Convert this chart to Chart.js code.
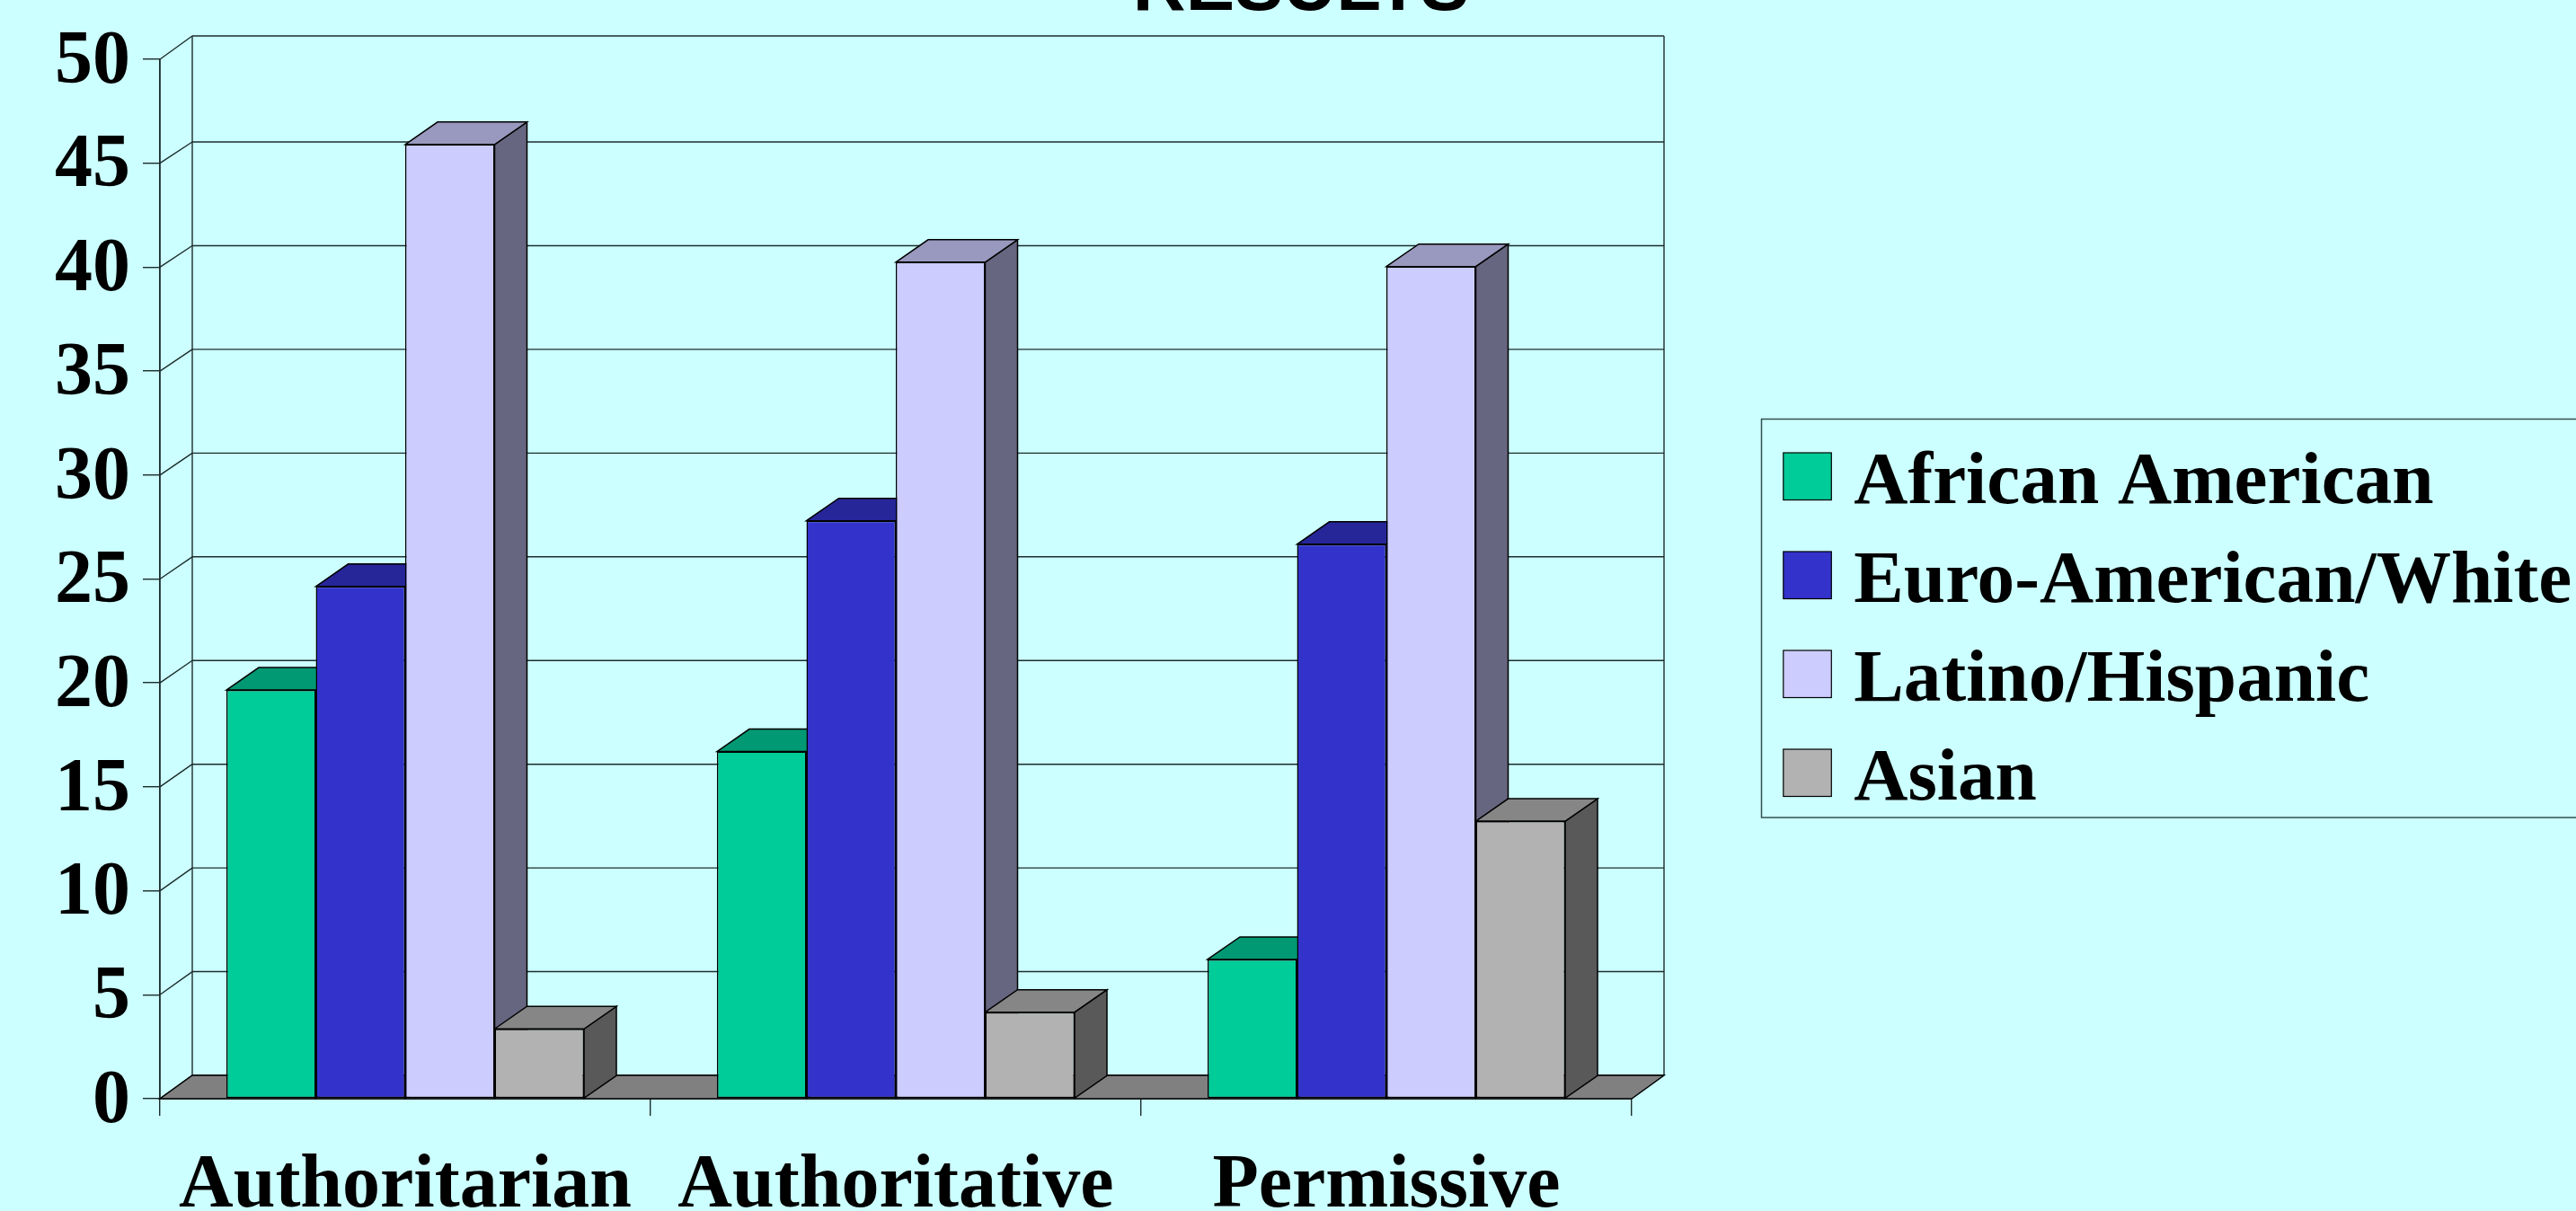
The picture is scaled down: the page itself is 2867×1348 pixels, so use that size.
<!DOCTYPE html>
<html>
<head>
<meta charset="utf-8">
<style>
html,body{margin:0;padding:0;background:#CCFFFF;overflow:hidden}
canvas{display:block}
</style>
<script src="https://cdn.jsdelivr.net/npm/chart.js@4/dist/chart.umd.min.js"></script>
</head>
<body>
<canvas id="c" width="2867" height="1348"></canvas>
<script>
const titleText = "RESULTS";
const categories = ["Authoritarian", "Authoritative", "Permissive"];
const seriesNames = ["African American", "Euro-American/White", "Latino/Hispanic", "Asian"];
const africanAmerican = [19.66, 16.7, 6.7];
const euroAmerican = [24.64, 27.8, 26.67];
const latinoHispanic = [45.9, 40.24, 40.03];
const asian = [3.36, 4.16, 13.35];
const frontColors = ["#00CC99", "#3333CC", "#CCCCFF", "#B2B2B2"];
const topColors = ["#009973", "#262699", "#9999BF", "#868686"];
const sideColors = ["#006650", "#1A1A66", "#666680", "#595959"];

const DX = 36, DY = 26, BAR_DY = 25;
const LINE = "#000000", LW = 1.5;
const GRID = "#1c2c2c", GRID_LW = 1.4;
const LEGEND_PAD = 26.7, LEGEND_FONT = 83.3;

function poly(ctx, pts, fill) {
  ctx.beginPath();
  pts.forEach((p, i) => i ? ctx.lineTo(p[0], p[1]) : ctx.moveTo(p[0], p[1]));
  ctx.closePath();
  if (fill) { ctx.fillStyle = fill; ctx.fill(); }
  ctx.strokeStyle = LINE; ctx.lineWidth = LW; ctx.stroke();
}
function seg(ctx, a, b, c, d) {
  ctx.beginPath(); ctx.moveTo(a, b); ctx.lineTo(c, d);
  ctx.strokeStyle = GRID; ctx.lineWidth = GRID_LW; ctx.stroke();
}

const depthPlugin = {
  id: "depth",
  afterLayout(chart) {
    const t = chart.titleBlock;
    t.left = 948; t.right = 1948; t.width = 1000;
    const l = chart.legend;
    l.left = 1994.9; l.top = 470.3; l.right = 2867; l.bottom = 1000;
    l.width = l.right - l.left; l.height = l.bottom - l.top;
  },
  beforeDatasetsDraw(chart) {
    const ctx = chart.ctx, a = chart.chartArea, ys = chart.scales.y;
    ctx.save();
    const y0 = ys.getPixelForValue(0), y50 = ys.getPixelForValue(50);
    ys.ticks.forEach(t => {
      const y = ys.getPixelForValue(t.value);
      const interior = t.value > 0 && t.value < 50;
      const back = y - DY + (interior ? 2.6 * t.value / 50 : 0);
      seg(ctx, a.left, y, a.left + DX, back);
      seg(ctx, a.left + DX, back, a.right + DX, back);
    });
    seg(ctx, a.left, y0, a.left, y50);
    seg(ctx, a.left + DX, y0 - DY, a.left + DX, y50 - DY);
    seg(ctx, a.right + DX, y0 - DY, a.right + DX, y50 - DY);
    poly(ctx, [[a.left, y0], [a.right, y0], [a.right + DX, y0 - DY], [a.left + DX, y0 - DY]], "#808080");
    categories.forEach((_, i) => {
      chart.data.datasets.forEach((ds, d) => {
        const b = chart.getDatasetMeta(d).data[i].getProps(["x", "y", "base", "width"], true);
        const L = b.x - b.width / 2, R = b.x + b.width / 2;
        poly(ctx, [[R, b.y], [R + DX, b.y - BAR_DY], [R + DX, b.base - BAR_DY], [R, b.base]], sideColors[d]);
        poly(ctx, [[L, b.y], [L + DX, b.y - BAR_DY], [R + DX, b.y - BAR_DY], [R, b.y]], topColors[d]);
      });
    });
    ctx.restore();
  },
  afterDraw(chart) {
    const ctx = chart.ctx, l = chart.legend;
    ctx.save();
    ctx.strokeStyle = "#33504f"; ctx.lineWidth = 1.5;
    ctx.strokeRect(1960.5, 466.5, 1000, 443.5);
    const pitch = LEGEND_FONT + LEGEND_PAD;
    l.legendItems.forEach((item, i) => {
      const x = 1984.8, y = 504 + i * pitch;
      ctx.fillStyle = item.fillStyle;
      ctx.fillRect(x, y, 53.5, 52.5);
      ctx.strokeStyle = LINE; ctx.lineWidth = 1.2;
      ctx.strokeRect(x, y, 53.5, 52.5);
    });
    ctx.restore();
  }
};

const legendFont = { family: "'Liberation Serif'", size: LEGEND_FONT, weight: "bold", lineHeight: 1.2 };
const axisFont = { family: "'Liberation Serif'", size: 84, weight: "bold", lineHeight: 1.2 };

new Chart(document.getElementById("c"), {
  type: "bar",
  plugins: [depthPlugin],
  data: {
    labels: categories,
    datasets: [africanAmerican, euroAmerican, latinoHispanic, asian].map((values, i) => ({
      label: seriesNames[i],
      data: values,
      backgroundColor: frontColors[i],
      borderColor: LINE,
      borderWidth: LW,
      borderSkipped: false,
      barPercentage: 1,
      categoryPercentage: 0.729
    }))
  },
  options: {
    responsive: false,
    animation: false,
    devicePixelRatio: 1,
    layout: { padding: { left: 0, right: 2867 - 1816, top: 0, bottom: 0 } },
    plugins: {
      tooltip: { enabled: false },
      title: {
        display: true,
        text: titleText,
        color: "#000",
        font: { family: "'Liberation Sans'", size: 81.5, weight: "bold", lineHeight: 1 },
        padding: { top: -52.5, bottom: 37 }
      },
      legend: {
        position: "chartArea",
        align: "start",
        labels: {
          color: "#000",
          font: legendFont,
          boxWidth: 0,
          boxHeight: 52,
          padding: LEGEND_PAD
        }
      }
    },
    scales: {
      x: {
        afterFit(s) { s.height = 1348 - 1223; },
        border: { color: LINE, width: LW },
        grid: { drawOnChartArea: false, drawTicks: true, tickLength: 19, color: GRID, lineWidth: GRID_LW },
        ticks: { color: "#000", font: axisFont, padding: 29, autoSkip: false, maxRotation: 0, minRotation: 0 }
      },
      y: {
        min: 0,
        max: 50,
        afterFit(s) { s.width = 178; },
        border: { color: GRID, width: GRID_LW },
        grid: { drawOnChartArea: false, drawTicks: true, tickLength: 19, color: GRID, lineWidth: GRID_LW },
        ticks: { color: "#000", font: axisFont, padding: 14, stepSize: 5, labelOffset: 4 }
      }
    }
  }
});
</script>
</body>
</html>
